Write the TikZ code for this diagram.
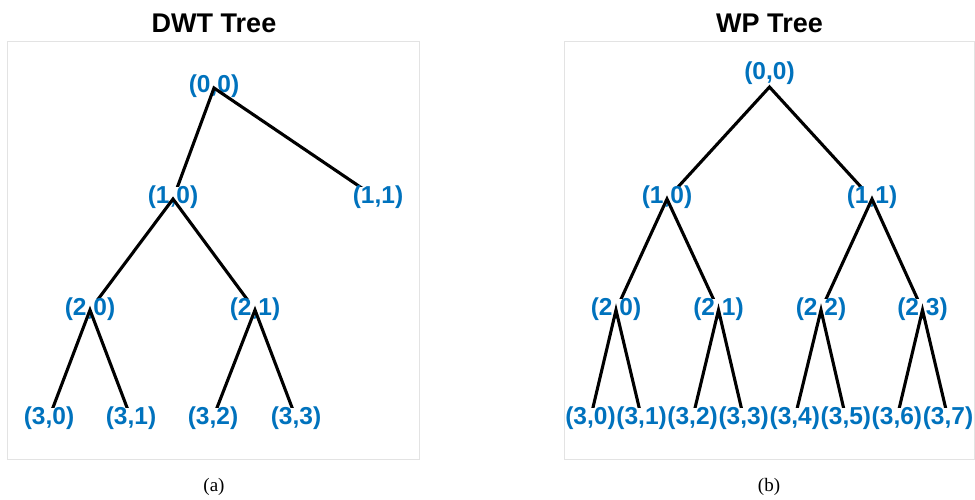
\documentclass[tikz,border=0pt]{standalone}
\usepackage{fontspec}
\setmainfont{Liberation Sans}
\newfontfamily\serf{Liberation Serif}
\definecolor{mblue}{HTML}{0072BD}
\definecolor{boxgray}{HTML}{E3E3E3}
\tikzset{
  lab/.style={anchor=base, inner xsep=0pt, inner ysep=-1.5pt, fill=white, text=mblue, font=\bfseries\fontsize{24.5}{28}\selectfont},
  ttl/.style={anchor=base, inner sep=0pt, font=\bfseries\fontsize{27}{30}\selectfont},
  captxt/.style={anchor=base, inner sep=0pt, font=\serf\fontsize{19}{22}\selectfont},
  conn/.style={line width=3.1pt, black, line cap=butt},
  panel/.style={draw=boxgray, line width=1pt}
}
\begin{document}
\begin{tikzpicture}[x=1pt,y=-1pt]
\useasboundingbox (0,0) rectangle (975,499);
% panels
\draw[panel] (7,41) rectangle (419,459);
\draw[panel] (564,41) rectangle (974.5,459);
% titles and captions
\node[ttl] (t1) at (214,32) {DWT Tree};
\node[ttl] (t2) at (769.5,32) {WP Tree};
\node[captxt] (c1) at (214,491.5) {(a)};
\node[captxt] (c2) at (769,491.5) {(b)};
% ---------- DWT tree junctions
\coordinate (a00) at (214,88);
\coordinate (a10) at (173,199);
\coordinate (a11) at (378,199);
\coordinate (a20) at (90,310);
\coordinate (a21) at (255,310);
\coordinate (a30) at (49,418);
\coordinate (a31) at (131,418);
\coordinate (a32) at (213,418);
\coordinate (a33) at (296,418);
% level 0
\node[lab] (ta00) at (214,92) {(0,0)};
\draw[conn] (a10) -- (a00) -- (a11);
% level 1
\node[lab] (ta10) at (173,203.5) {(1,0)};
\node[lab] (ta11) at (378,203.5) {(1,1)};
\draw[conn] (a20) -- (a10) -- (a21);
% level 2
\node[lab] (ta20) at (90,315.5) {(2,0)};
\node[lab] (ta21) at (255,315.5) {(2,1)};
\draw[conn] (a30) -- (a20) -- (a31);
\draw[conn] (a32) -- (a21) -- (a33);
% level 3
\node[lab] (ta30) at (49,424) {(3,0)};
\node[lab] (ta31) at (131,424) {(3,1)};
\node[lab] (ta32) at (213,424) {(3,2)};
\node[lab] (ta33) at (296,424) {(3,3)};
% ---------- WP tree junctions
\coordinate (b00) at (769.5,87);
\coordinate (b10) at (667,199);
\coordinate (b11) at (872,199);
\coordinate (b20) at (616,310);
\coordinate (b21) at (718.5,310);
\coordinate (b22) at (821,310);
\coordinate (b23) at (922.5,310);
\coordinate (b30) at (590.5,418);
\coordinate (b31) at (641.6,418);
\coordinate (b32) at (692.6,418);
\coordinate (b33) at (743.7,418);
\coordinate (b34) at (794.8,418);
\coordinate (b35) at (845.9,418);
\coordinate (b36) at (896.9,418);
\coordinate (b37) at (948,418);
% level 0
\node[lab] (tb00) at (769.5,79.5) {(0,0)};
\draw[conn] (b10) -- (b00) -- (b11);
% level 1
\node[lab] (tb10) at (667,203.5) {(1,0)};
\node[lab] (tb11) at (872,203.5) {(1,1)};
\draw[conn] (b20) -- (b10) -- (b21);
\draw[conn] (b22) -- (b11) -- (b23);
% level 2
\node[lab] (tb20) at (616,315.5) {(2,0)};
\node[lab] (tb21) at (718.5,315.5) {(2,1)};
\node[lab] (tb22) at (821,315.5) {(2,2)};
\node[lab] (tb23) at (922.5,315.5) {(2,3)};
\draw[conn] (b30) -- (b20) -- (b31);
\draw[conn] (b32) -- (b21) -- (b33);
\draw[conn] (b34) -- (b22) -- (b35);
\draw[conn] (b36) -- (b23) -- (b37);
% level 3
\node[lab] (tb30) at (590.5,424) {(3,0)};
\node[lab] (tb31) at (641.6,424) {(3,1)};
\node[lab] (tb32) at (692.6,424) {(3,2)};
\node[lab] (tb33) at (743.7,424) {(3,3)};
\node[lab] (tb34) at (794.8,424) {(3,4)};
\node[lab] (tb35) at (845.9,424) {(3,5)};
\node[lab] (tb36) at (896.9,424) {(3,6)};
\node[lab] (tb37) at (948,424) {(3,7)};
\end{tikzpicture}
\end{document}
